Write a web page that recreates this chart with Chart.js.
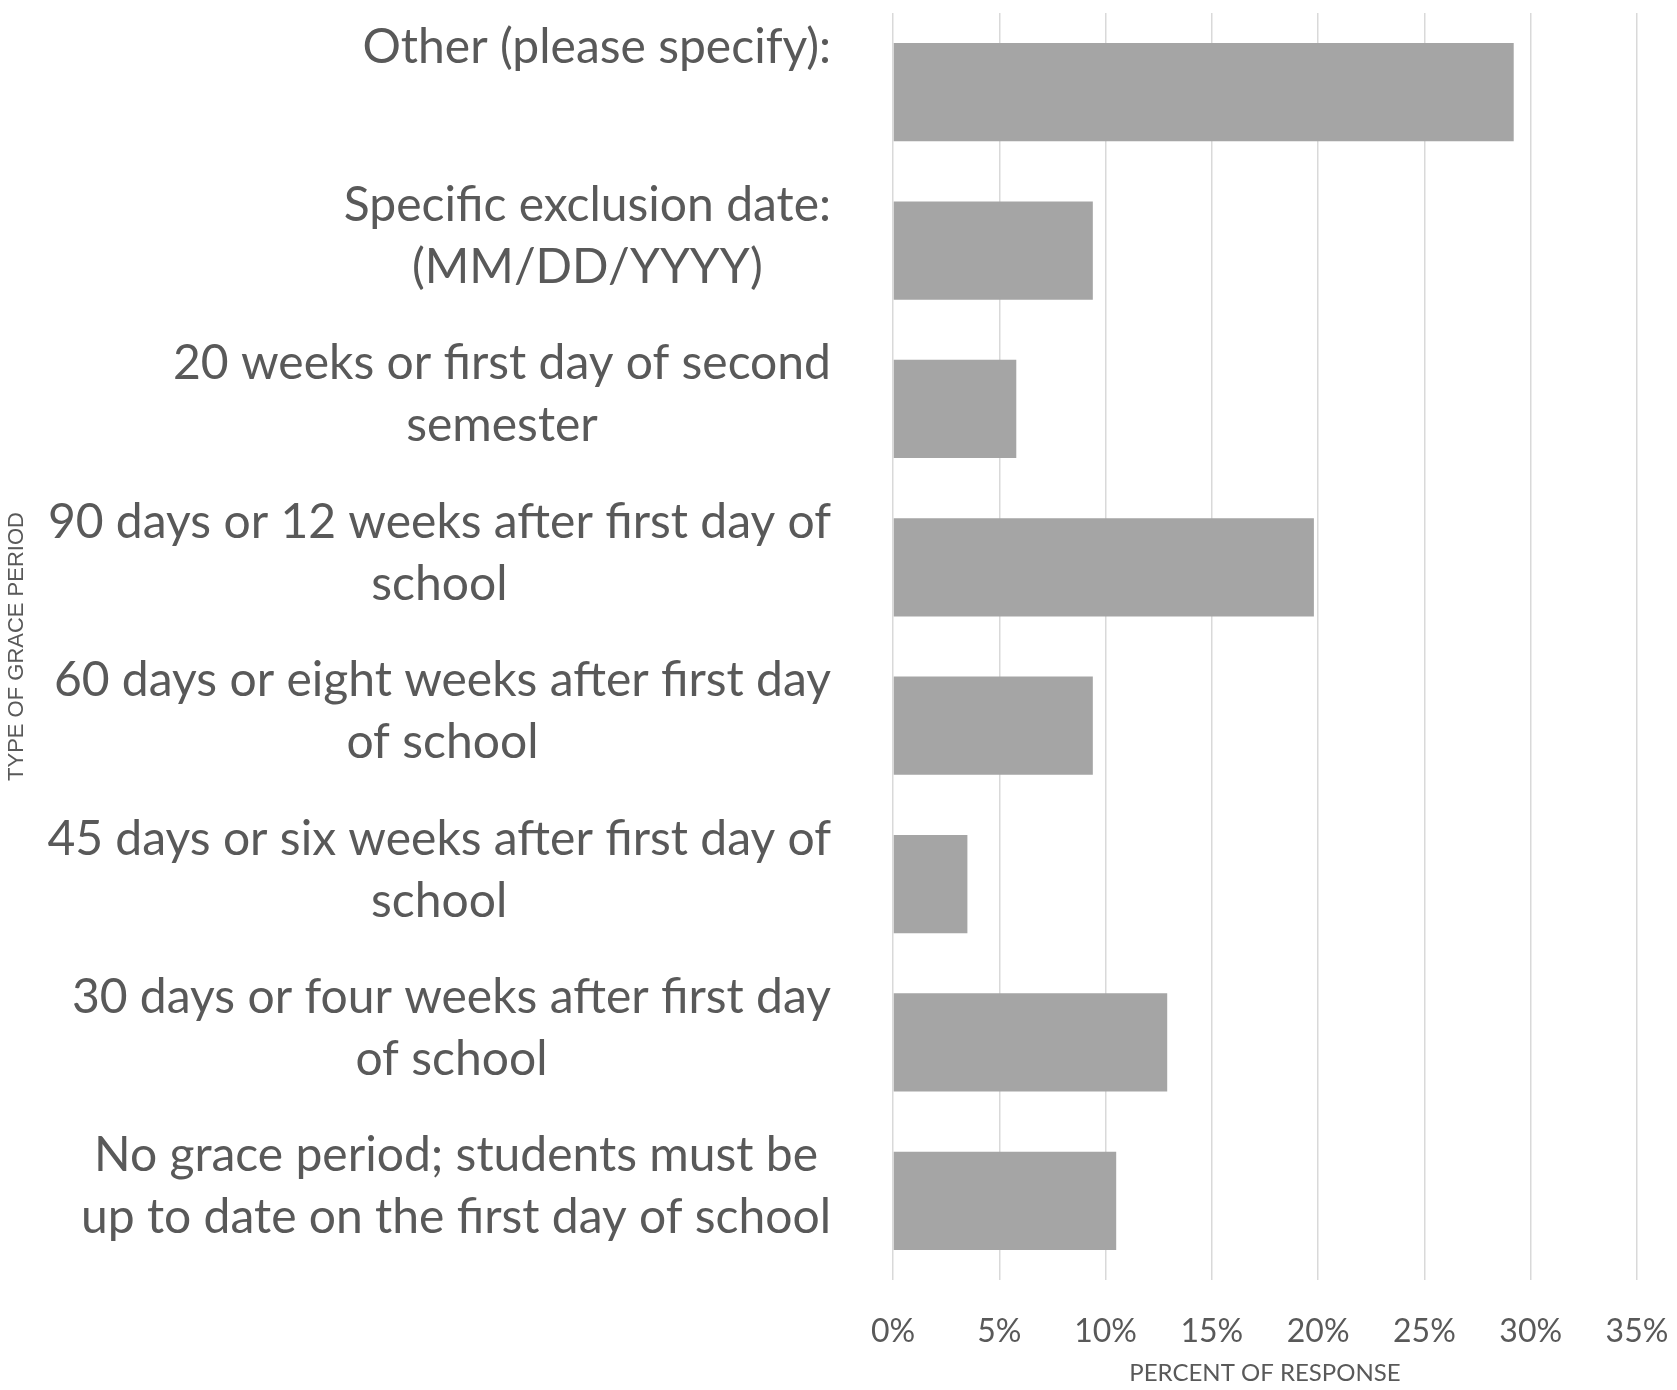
<!DOCTYPE html>
<html>
<head>
<meta charset="utf-8">
<script src="https://cdn.jsdelivr.net/npm/chart.js@4"></script>
<style>
  html, body { margin: 0; padding: 0; background: #fff; }
  #wrap { width: 1677px; height: 1390px; position: relative; }
</style>
</head>
<body>
<div id="wrap"><canvas id="chart"></canvas></div>
<script>
// categories, top to bottom, with the line breaks seen in the picture
var categories = [
    ['Other (please specify):'],
    ['Specific exclusion date:', '(MM/DD/YYYY)'],
    ['20 weeks or first day of second', 'semester'],
    ['90 days or 12 weeks after first day of', 'school'],
    ['60 days or eight weeks after first day', 'of school'],
    ['45 days or six weeks after first day of', 'school'],
    ['30 days or four weeks after first day', 'of school'],
    ['No grace period; students must be', 'up to date on the first day of school']
];
var percents = [29.2, 9.4, 5.8, 19.8, 9.4, 3.5, 12.9, 10.5];
var tickValues = [0, 5, 10, 15, 20, 25, 30, 35];

var textColor = '#595959';
var labelFont = '48px Lato';

// category labels: block right-aligned to the plot, lines centred on each other
var catLabels = {
    id: 'catLabels',
    afterDraw: function(chart) {
        var ctx = chart.ctx;
        var yScale = chart.scales.y;
        var rightEdge = chart.chartArea.left - 62;
        ctx.save();
        ctx.font = labelFont;
        ctx.fillStyle = textColor;
        ctx.textAlign = 'center';
        ctx.textBaseline = 'middle';
        categories.forEach(function(lines, i) {
            var widest = 0;
            lines.forEach(function(l) { widest = Math.max(widest, ctx.measureText(l).width); });
            var cx = rightEdge - widest / 2;
            var y0 = yScale.getPixelForValue(i) - 45;
            lines.forEach(function(l, j) {
                ctx.fillText(l, cx, y0 + j * 62);
            });
        });
        ctx.restore();
    }
};

var ctx = document.getElementById('chart').getContext('2d');
var myChart = new Chart(ctx, {
    type: 'bar',
    data: {
        labels: categories.map(function(c) { return c.join(' '); }),
        datasets: [{
            data: percents,
            backgroundColor: '#A5A5A5',
            categoryPercentage: 1,
            barPercentage: 0.62
        }]
    },
    options: {
        indexAxis: 'y',
        responsive: true,
        maintainAspectRatio: false,
        animation: false,
        layout: { padding: { top: 13, right: 40, bottom: 0, left: 0 } },
        plugins: { legend: { display: false }, tooltip: { enabled: false } },
        scales: {
            x: {
                min: 0,
                max: 35,
                afterBuildTicks: function(scale) {
                    scale.ticks = tickValues.map(function(v) { return { value: v }; });
                },
                afterFit: function(scale) {
                    scale.height = 110;
                    scale.paddingLeft = 0;
                    scale.paddingRight = 0;
                },
                grid: { color: '#D9D9D9', lineWidth: 1.5, drawTicks: false },
                border: { display: false },
                ticks: {
                    color: textColor,
                    font: { family: 'Lato', size: 32 },
                    padding: 32,
                    callback: function(v) { return v + '%'; }
                },
                title: {
                    display: true,
                    text: 'PERCENT OF RESPONSE',
                    color: textColor,
                    font: { family: 'Lato', size: 24 },
                    padding: { top: 4, bottom: 2 }
                }
            },
            y: {
                afterFit: function(scale) { scale.width = 893; },
                grid: { display: false },
                border: { display: false },
                ticks: { display: false },
                title: {
                    display: true,
                    text: 'TYPE OF GRACE PERIOD',
                    color: textColor,
                    font: { family: 'Liberation Sans', size: 22 },
                    padding: { top: 4, bottom: 4 }
                }
            }
        }
    },
    plugins: [catLabels]
});
</script>
</body>
</html>
